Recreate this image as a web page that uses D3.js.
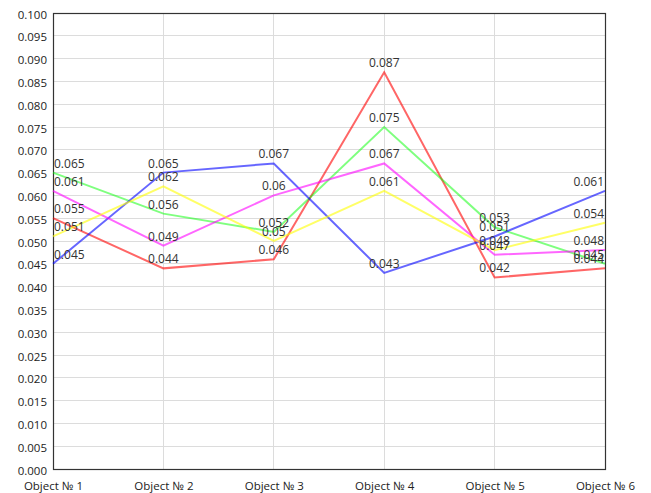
<!DOCTYPE html>
<html><head><meta charset="utf-8">
<script src="https://cdn.jsdelivr.net/npm/d3@7"></script>
<style>body{margin:0;background:#fff;}svg{display:block;font-family:"Open Sans",sans-serif;}</style>
</head><body><svg id="c" width="651" height="493"></svg>
<script>
const categories = ["Object № 1","Object № 2","Object № 3","Object № 4","Object № 5","Object № 6"];
const red     = [0.055,0.044,0.046,0.087,0.042,0.044];
const green   = [0.065,0.056,0.052,0.075,0.053,0.045];
const blue    = [0.045,0.065,0.067,0.043,0.051,0.061];
const magenta = [0.061,0.049,0.060,0.067,0.047,0.048];
const yellow  = [0.051,0.062,0.050,0.061,0.048,0.054];
const yTicks  = d3.range(0,21).map(i=>+(i*0.005).toFixed(3));

const series = [
  {values: red, color: "#ff0000", op: 0.6},
  {values: green, color: "#00ff00", op: 0.5},
  {values: blue, color: "#0000ff", op: 0.6},
  {values: magenta, color: "#ff00ff", op: 0.6},
  {values: yellow, color: "#ffff00", op: 0.6}
];

const L=53,R=605,T=13,B=469;
const svg=d3.select("#c");
const x=d3.scalePoint().domain(categories).range([L,R]).padding(0);
const y=d3.scaleLinear().domain([0,0.1]).range([B,T]);

// grid
svg.append("g").selectAll("line").data(yTicks).join("line")
  .attr("x1",L).attr("x2",R).attr("y1",d=>y(d)).attr("y2",d=>y(d))
  .attr("stroke","#dcdcdc").attr("stroke-width",1).attr("shape-rendering","crispEdges");
svg.append("g").selectAll("line").data(categories).join("line")
  .attr("x1",d=>x(d)).attr("x2",d=>x(d)).attr("y1",T).attr("y2",B)
  .attr("stroke","#dcdcdc").attr("stroke-width",1).attr("shape-rendering","crispEdges");

// axes
const ya=svg.append("g").attr("transform",`translate(${L},0)`)
  .call(d3.axisLeft(y).tickValues(yTicks).tickFormat(d3.format(".3f")).tickSize(0).tickPadding(6));
ya.select(".domain").remove();
ya.selectAll("text").attr("font-size",11.5).attr("fill","#222").attr("font-family","Open Sans, sans-serif").attr("dy","0.45em");
const xa=svg.append("g").attr("transform",`translate(0,${B})`)
  .call(d3.axisBottom(x).tickSize(0).tickPadding(13));
xa.select(".domain").remove();
xa.selectAll("text").attr("font-size",11.5).attr("fill","#222").attr("font-family","Open Sans, sans-serif");

// border
svg.append("rect").attr("x",L+0.5).attr("y",T+0.5).attr("width",R-L).attr("height",B-T)
  .attr("fill","none").attr("stroke","#333").attr("stroke-width",1.2);

// lines
const line=d3.line().x((d,i)=>x(categories[i])).y(d=>y(d));
series.forEach(s=>{
  svg.append("path").datum(s.values).attr("d",line).attr("fill","none")
    .attr("stroke",s.color).attr("stroke-opacity",s.op).attr("stroke-width",2);
});
// labels
series.forEach(s=>{
  svg.append("g").selectAll("text").data(s.values).join("text")
    .attr("x",(d,i)=>i===0?x(categories[i])+1:(i===categories.length-1?x(categories[i])-1:x(categories[i])))
    .attr("y",d=>y(d)-5)
    .attr("text-anchor",(d,i)=>i===0?"start":(i===categories.length-1?"end":"middle"))
    .attr("font-size",12).attr("fill","#333")
    .text(d=>String(+d.toFixed(3)));
});
</script></body></html>
